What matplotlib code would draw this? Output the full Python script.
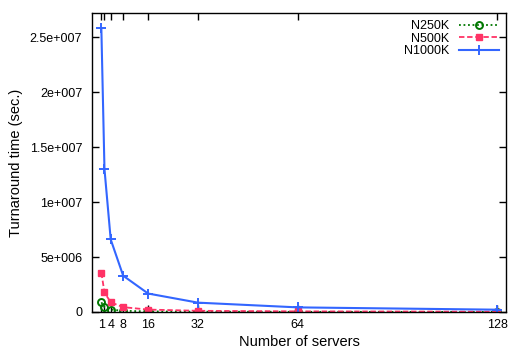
import numpy as np
import matplotlib
matplotlib.use("Agg")
import matplotlib.pyplot as plt
from matplotlib.ticker import FuncFormatter

plt.rcParams['font.family'] = ['Liberation Sans', 'DejaVu Sans']

# servers vs turnaround time (sec.)
servers = [1, 2, 4, 8, 16, 32, 64, 128]
n250k = [880000, 440000, 220000, 110000, 55000, 28000, 14000, 7000]
n500k = [3580000, 1780000, 880000, 440000, 220000, 110000, 56000, 28000]
n1000k = [25800000, 13000000, 6600000, 3300000, 1680000, 850000, 420000, 210000]

xticks = [1, 2, 4, 8, 16, 32, 64, 128]
xticklabels = ['1', '', '4', '8', '16', '32', '64', '128']
yticks = [0, 5e6, 1e7, 1.5e7, 2e7, 2.5e7]


def gp_fmt(v, pos):
    # gnuplot-style exponent labels, e.g. 2.5e+007
    if v == 0:
        return '0'
    exp = int(np.floor(np.log10(abs(v))))
    mant = v / 10 ** exp
    m = f'{mant:g}'
    return f'{m}e+{exp:03d}'


fig = plt.figure(figsize=(5.09, 3.52), dpi=100)
ax = fig.add_axes([92 / 509, 1 - 312 / 352, 414 / 509, 299 / 352])

ax.plot(servers, n250k, color='#007700', linestyle=(0, (1, 1.5)), linewidth=1.3,
        marker='o', markersize=5, markerfacecolor='none', markeredgewidth=1.4,
        label='N250K')
ax.plot(servers, n500k, color='#ff3366', linestyle=(0, (3, 1.5)), linewidth=1.3,
        marker='s', markersize=5, label='N500K')
ax.plot(servers, n1000k, color='#3366ff', linestyle='-', linewidth=1.5,
        marker='+', markersize=7, markeredgewidth=1.4, label='N1000K')

ax.set_xlim(-2.0, 130.8)
ax.set_ylim(0, 2.72e7)
ax.set_xticks(xticks)
ax.set_xticklabels(xticklabels)
ax.set_yticks(yticks)
ax.yaxis.set_major_formatter(FuncFormatter(gp_fmt))
ax.tick_params(direction='in', top=True, right=True, length=5, width=1,
               labelsize=9)
ax.tick_params(axis='y', pad=7)
ax.tick_params(axis='x', pad=5)
for s in ax.spines.values():
    s.set_linewidth(1)

ax.set_xlabel('Number of servers', fontsize=10.5, labelpad=3)
ax.set_ylabel('Turnaround time (sec.)', fontsize=10.5, labelpad=5)

ax.legend(loc='upper right', frameon=False, markerfirst=False, fontsize=9,
          handlelength=3.2, borderaxespad=0.15, labelspacing=0.05,
          handletextpad=0.8)

fig.savefig('out.png', dpi=100, facecolor='white')
